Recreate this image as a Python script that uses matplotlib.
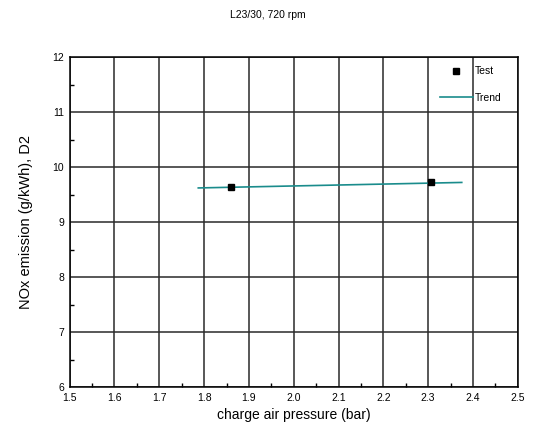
import matplotlib
matplotlib.use("Agg")
import matplotlib.pyplot as plt
from matplotlib.ticker import MultipleLocator

plt.rcParams['font.family'] = ['Liberation Sans', 'DejaVu Sans']

# data
test_x = [1.86, 2.307]
test_y = [9.64, 9.72]
trend_x = [1.787, 2.375]
trend_y = [9.62, 9.72]

fig = plt.figure(figsize=(5.36, 4.32), dpi=100)
ax = fig.add_axes([0.130, 0.104, 0.836, 0.764])

ax.plot(trend_x, trend_y, color='#1a8c8c', linewidth=1.2, label='Trend', zorder=3)
ax.plot(test_x, test_y, 's', color='black', markersize=4, linestyle='none', label='Test', zorder=4)

ax.set_xlim(1.5, 2.5)
ax.set_ylim(6, 12)
ax.xaxis.set_major_locator(MultipleLocator(0.1))
ax.xaxis.set_minor_locator(MultipleLocator(0.05))
ax.yaxis.set_major_locator(MultipleLocator(1))
ax.yaxis.set_minor_locator(MultipleLocator(0.5))
ax.xaxis.set_major_formatter(plt.FuncFormatter(lambda v, p: f"{v:.1f}"))
ax.yaxis.set_major_formatter(plt.FuncFormatter(lambda v, p: f"{v:.0f}"))

ax.grid(True, which='major', color='#2a2a2a', linewidth=1.1)
ax.tick_params(which='both', direction='in', labelsize=7.5, pad=4)
ax.tick_params(which='major', length=0)
ax.tick_params(which='minor', length=3, width=1)
for s in ax.spines.values():
    s.set_linewidth(1.1)

ax.set_xlabel("charge air pressure (bar)", fontsize=10, labelpad=4)
ax.set_ylabel("NOx emission (g/kWh), D2", fontsize=10.5, labelpad=14)
fig.text(0.5, 0.965, "L23/30, 720 rpm", ha='center', va='center', fontsize=7.5)

handles, labels = ax.get_legend_handles_labels()
ax.legend(handles[::-1], labels[::-1], loc='upper right', frameon=False,
          fontsize=7.5, handlelength=3.2, handletextpad=0.2, labelspacing=1.6,
          borderaxespad=0.5, bbox_to_anchor=(0.985, 1.0))

fig.savefig("out.png", dpi=100)
